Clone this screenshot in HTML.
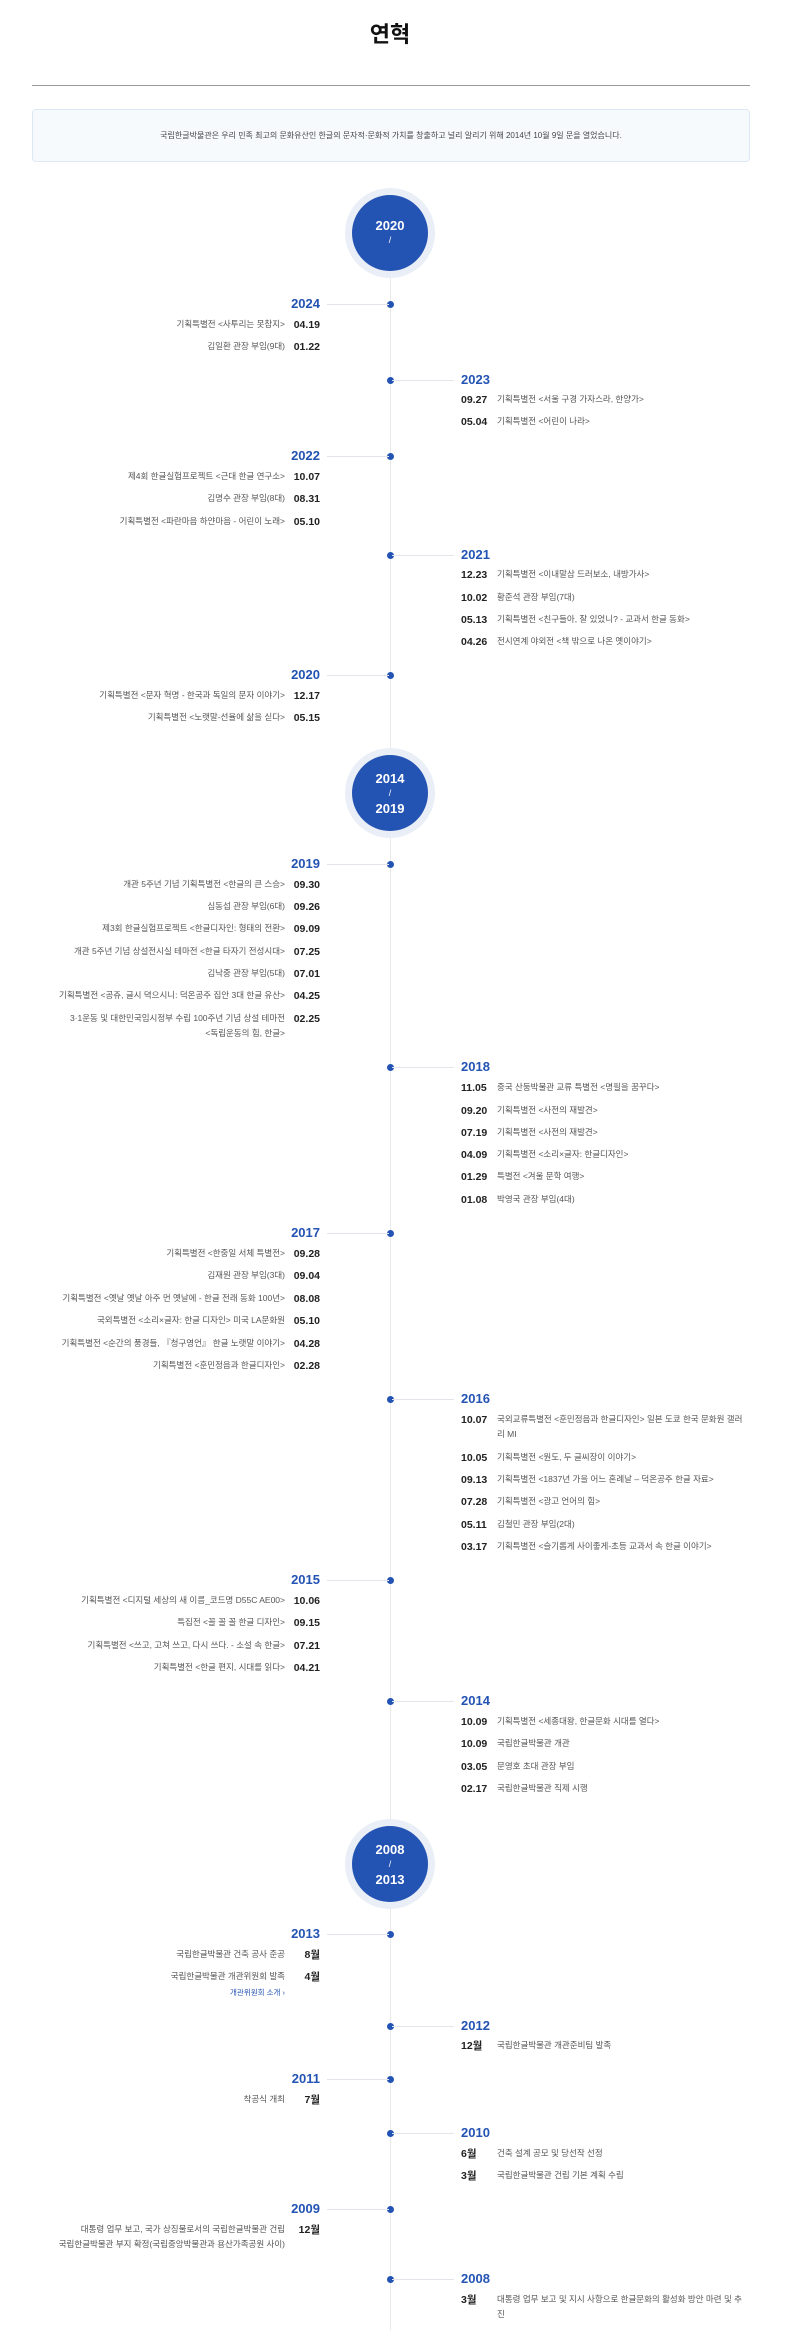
<!DOCTYPE html>
<html><head><meta charset="utf-8"><style>
*{margin:0;padding:0;box-sizing:border-box}
body{width:800px;height:2347px;position:relative;background:#fff;font-family:"Liberation Sans","Noto Sans CJK KR",sans-serif;overflow:hidden}
.a{position:absolute}
h1{position:absolute;left:0;width:780px;top:20px;text-align:center;font-size:22px;line-height:30px;font-weight:bold;color:#111}
.hr{left:32px;width:718px;top:85px;height:1px;background:#999}
.box{left:32px;width:718px;top:109px;height:53px;background:#f7fafd;border:1px solid #dde8f4;border-radius:4px;font-size:8px;color:#444;text-align:center;line-height:51px}
.vl{left:390px;width:1px;top:230px;height:2100px;background:#e8eaee}
.halo{width:90px;height:90px;border-radius:50%;background:#e9eef7;left:345px}
.circ{width:76px;height:76px;border-radius:50%;background:#2353b3;left:352px;color:#fff;font-weight:bold;font-size:13px;text-align:center;display:flex;flex-direction:column;justify-content:center;line-height:15px}
.circ span{font-size:9px;font-weight:normal}
.dot{width:7px;height:7px;border-radius:50%;background:#2353b3;left:387px}
.dl{left:327px;width:62px;height:1px;background:#e3e5ea}
.dr{left:392px;width:62px;height:1px;background:#e3e5ea}
.yl{right:480px;font-size:13px;font-weight:bold;color:#2353b3;line-height:16px}
.yr{left:461px;font-size:13px;font-weight:bold;color:#2353b3;line-height:16px}
.ld{right:480px;font-size:10.5px;font-weight:bold;color:#222;line-height:14px}
.lt{right:515px;font-size:8.5px;color:#555;line-height:15px;text-align:right;white-space:nowrap}
.rd{left:461px;font-size:10.5px;font-weight:bold;color:#222;line-height:14px}
.rt{left:497px;font-size:8.5px;color:#555;line-height:15px;white-space:nowrap}
.lk{right:515px;font-size:7.5px;color:#2353b3;line-height:12px}
</style></head><body>
<h1>연혁</h1>
<div class="a hr"></div>
<div class="a box">국립한글박물관은 우리 민족 최고의 문화유산인 한글의 문자적·문화적 가치를 창출하고 널리 알리기 위해 2014년 10월 9일 문을 열었습니다.</div>
<div class="a vl"></div>

<div class="a halo" style="top:188px"></div><div class="a circ" style="top:195px">2020<span>/</span></div>
<div class="a halo" style="top:748px"></div><div class="a circ" style="top:755px">2014<span>/</span>2019</div>
<div class="a halo" style="top:1819px"></div><div class="a circ" style="top:1826px">2008<span>/</span>2013</div>

<!-- 2024 L -->
<div class="a dot" style="top:301px"></div><div class="a dl" style="top:304px"></div>
<div class="a yl" style="top:296px">2024</div>
<div class="a ld" style="top:318px">04.19</div><div class="a lt" style="top:317px">기획특별전 &lt;사투리는 못참지&gt;</div>
<div class="a ld" style="top:340px">01.22</div><div class="a lt" style="top:339px">김일환 관장 부임(9대)</div>
<!-- 2023 R -->
<div class="a dot" style="top:377px"></div><div class="a dr" style="top:380px"></div>
<div class="a yr" style="top:372px">2023</div>
<div class="a rd" style="top:393px">09.27</div><div class="a rt" style="top:392px">기획특별전 &lt;서울 구경 가자스라, 한양가&gt;</div>
<div class="a rd" style="top:415px">05.04</div><div class="a rt" style="top:414px">기획특별전 &lt;어린이 나라&gt;</div>
<!-- 2022 L -->
<div class="a dot" style="top:453px"></div><div class="a dl" style="top:456px"></div>
<div class="a yl" style="top:448px">2022</div>
<div class="a ld" style="top:470px">10.07</div><div class="a lt" style="top:469px">제4회 한글실험프로젝트 &lt;근대 한글 연구소&gt;</div>
<div class="a ld" style="top:492px">08.31</div><div class="a lt" style="top:491px">김명수 관장 부임(8대)</div>
<div class="a ld" style="top:515px">05.10</div><div class="a lt" style="top:514px">기획특별전 &lt;파란마음 하얀마음 - 어린이 노래&gt;</div>
<!-- 2021 R -->
<div class="a dot" style="top:552px"></div><div class="a dr" style="top:555px"></div>
<div class="a yr" style="top:547px">2021</div>
<div class="a rd" style="top:568px">12.23</div><div class="a rt" style="top:567px">기획특별전 &lt;이내말삼 드러보소, 내방가사&gt;</div>
<div class="a rd" style="top:591px">10.02</div><div class="a rt" style="top:590px">황준석 관장 부임(7대)</div>
<div class="a rd" style="top:613px">05.13</div><div class="a rt" style="top:612px">기획특별전 &lt;친구들아, 잘 있었니? - 교과서 한글 동화&gt;</div>
<div class="a rd" style="top:635px">04.26</div><div class="a rt" style="top:634px">전시연계 야외전 &lt;책 밖으로 나온 옛이야기&gt;</div>
<!-- 2020 L -->
<div class="a dot" style="top:672px"></div><div class="a dl" style="top:675px"></div>
<div class="a yl" style="top:667px">2020</div>
<div class="a ld" style="top:689px">12.17</div><div class="a lt" style="top:688px">기획특별전 &lt;문자 혁명 - 한국과 독일의 문자 이야기&gt;</div>
<div class="a ld" style="top:711px">05.15</div><div class="a lt" style="top:710px">기획특별전 &lt;노랫말-선율에 삶을 싣다&gt;</div>

<!-- 2019 L -->
<div class="a dot" style="top:861px"></div><div class="a dl" style="top:864px"></div>
<div class="a yl" style="top:856px">2019</div>
<div class="a ld" style="top:878px">09.30</div><div class="a lt" style="top:877px">개관 5주년 기념 기획특별전 &lt;한글의 큰 스승&gt;</div>
<div class="a ld" style="top:900px">09.26</div><div class="a lt" style="top:899px">심동섭 관장 부임(6대)</div>
<div class="a ld" style="top:922px">09.09</div><div class="a lt" style="top:921px">제3회 한글실험프로젝트 &lt;한글디자인: 형태의 전환&gt;</div>
<div class="a ld" style="top:945px">07.25</div><div class="a lt" style="top:944px">개관 5주년 기념 상설전시실 테마전 &lt;한글 타자기 전성시대&gt;</div>
<div class="a ld" style="top:967px">07.01</div><div class="a lt" style="top:966px">김낙중 관장 부임(5대)</div>
<div class="a ld" style="top:989px">04.25</div><div class="a lt" style="top:988px">기획특별전 &lt;공쥬, 글시 뎍으시니: 덕온공주 집안 3대 한글 유산&gt;</div>
<div class="a ld" style="top:1012px">02.25</div><div class="a lt" style="top:1011px">3·1운동 및 대한민국임시정부 수립 100주년 기념 상설 테마전<br>&lt;독립운동의 힘, 한글&gt;</div>
<!-- 2018 R -->
<div class="a dot" style="top:1064px"></div><div class="a dr" style="top:1067px"></div>
<div class="a yr" style="top:1059px">2018</div>
<div class="a rd" style="top:1081px">11.05</div><div class="a rt" style="top:1080px">중국 산둥박물관 교류 특별전 &lt;명필을 꿈꾸다&gt;</div>
<div class="a rd" style="top:1104px">09.20</div><div class="a rt" style="top:1103px">기획특별전 &lt;사전의 재발견&gt;</div>
<div class="a rd" style="top:1126px">07.19</div><div class="a rt" style="top:1125px">기획특별전 &lt;사전의 재발견&gt;</div>
<div class="a rd" style="top:1148px">04.09</div><div class="a rt" style="top:1147px">기획특별전 &lt;소리×글자: 한글디자인&gt;</div>
<div class="a rd" style="top:1170px">01.29</div><div class="a rt" style="top:1169px">특별전 &lt;겨울 문학 여행&gt;</div>
<div class="a rd" style="top:1193px">01.08</div><div class="a rt" style="top:1192px">박영국 관장 부임(4대)</div>
<!-- 2017 L -->
<div class="a dot" style="top:1230px"></div><div class="a dl" style="top:1233px"></div>
<div class="a yl" style="top:1225px">2017</div>
<div class="a ld" style="top:1247px">09.28</div><div class="a lt" style="top:1246px">기획특별전 &lt;한중일 서체 특별전&gt;</div>
<div class="a ld" style="top:1269px">09.04</div><div class="a lt" style="top:1268px">김재원 관장 부임(3대)</div>
<div class="a ld" style="top:1292px">08.08</div><div class="a lt" style="top:1291px">기획특별전 &lt;옛날 옛날 아주 먼 옛날에 - 한글 전래 동화 100년&gt;</div>
<div class="a ld" style="top:1314px">05.10</div><div class="a lt" style="top:1313px">국외특별전 &lt;소리×글자: 한글 디자인&gt; 미국 LA문화원</div>
<div class="a ld" style="top:1337px">04.28</div><div class="a lt" style="top:1336px">기획특별전 &lt;순간의 풍경들, 『청구영언』 한글 노랫말 이야기&gt;</div>
<div class="a ld" style="top:1359px">02.28</div><div class="a lt" style="top:1358px">기획특별전 &lt;훈민정음과 한글디자인&gt;</div>
<!-- 2016 R -->
<div class="a dot" style="top:1396px"></div><div class="a dr" style="top:1399px"></div>
<div class="a yr" style="top:1391px">2016</div>
<div class="a rd" style="top:1413px">10.07</div><div class="a rt" style="top:1412px">국외교류특별전 &lt;훈민정음과 한글디자인&gt; 일본 도쿄 한국 문화원 갤러<br>리 MI</div>
<div class="a rd" style="top:1451px">10.05</div><div class="a rt" style="top:1450px">기획특별전 &lt;원도, 두 글씨장이 이야기&gt;</div>
<div class="a rd" style="top:1473px">09.13</div><div class="a rt" style="top:1472px">기획특별전 &lt;1837년 가을 어느 혼례날 – 덕온공주 한글 자료&gt;</div>
<div class="a rd" style="top:1495px">07.28</div><div class="a rt" style="top:1494px">기획특별전 &lt;광고 언어의 힘&gt;</div>
<div class="a rd" style="top:1518px">05.11</div><div class="a rt" style="top:1517px">김철민 관장 부임(2대)</div>
<div class="a rd" style="top:1540px">03.17</div><div class="a rt" style="top:1539px">기획특별전 &lt;슬기롭게 사이좋게-초등 교과서 속 한글 이야기&gt;</div>
<!-- 2015 L -->
<div class="a dot" style="top:1577px"></div><div class="a dl" style="top:1580px"></div>
<div class="a yl" style="top:1572px">2015</div>
<div class="a ld" style="top:1594px">10.06</div><div class="a lt" style="top:1593px">기획특별전 &lt;디지털 세상의 새 이름_코드명 D55C AE00&gt;</div>
<div class="a ld" style="top:1616px">09.15</div><div class="a lt" style="top:1615px">특집전 &lt;꼴 꼴 꼴 한글 디자인&gt;</div>
<div class="a ld" style="top:1639px">07.21</div><div class="a lt" style="top:1638px">기획특별전 &lt;쓰고, 고쳐 쓰고, 다시 쓰다. - 소설 속 한글&gt;</div>
<div class="a ld" style="top:1661px">04.21</div><div class="a lt" style="top:1660px">기획특별전 &lt;한글 편지, 시대를 읽다&gt;</div>
<!-- 2014 R -->
<div class="a dot" style="top:1698px"></div><div class="a dr" style="top:1701px"></div>
<div class="a yr" style="top:1693px">2014</div>
<div class="a rd" style="top:1715px">10.09</div><div class="a rt" style="top:1714px">기획특별전 &lt;세종대왕, 한글문화 시대를 열다&gt;</div>
<div class="a rd" style="top:1737px">10.09</div><div class="a rt" style="top:1736px">국립한글박물관 개관</div>
<div class="a rd" style="top:1760px">03.05</div><div class="a rt" style="top:1759px">문영호 초대 관장 부임</div>
<div class="a rd" style="top:1782px">02.17</div><div class="a rt" style="top:1781px">국립한글박물관 직제 시행</div>

<!-- 2013 L -->
<div class="a dot" style="top:1931px"></div><div class="a dl" style="top:1934px"></div>
<div class="a yl" style="top:1926px">2013</div>
<div class="a ld" style="top:1948px">8월</div><div class="a lt" style="top:1947px">국립한글박물관 건축 공사 준공</div>
<div class="a ld" style="top:1970px">4월</div><div class="a lt" style="top:1969px">국립한글박물관 개관위원회 발족</div>
<div class="a lk" style="top:1987px">개관위원회 소개 ›</div>
<!-- 2012 R -->
<div class="a dot" style="top:2023px"></div><div class="a dr" style="top:2026px"></div>
<div class="a yr" style="top:2018px">2012</div>
<div class="a rd" style="top:2039px">12월</div><div class="a rt" style="top:2038px">국립한글박물관 개관준비팀 발족</div>
<!-- 2011 L -->
<div class="a dot" style="top:2076px"></div><div class="a dl" style="top:2079px"></div>
<div class="a yl" style="top:2071px">2011</div>
<div class="a ld" style="top:2093px">7월</div><div class="a lt" style="top:2092px">착공식 개최</div>
<!-- 2010 R -->
<div class="a dot" style="top:2130px"></div><div class="a dr" style="top:2133px"></div>
<div class="a yr" style="top:2125px">2010</div>
<div class="a rd" style="top:2147px">6월</div><div class="a rt" style="top:2146px">건축 설계 공모 및 당선작 선정</div>
<div class="a rd" style="top:2169px">3월</div><div class="a rt" style="top:2168px">국립한글박물관 건립 기본 계획 수립</div>
<!-- 2009 L -->
<div class="a dot" style="top:2206px"></div><div class="a dl" style="top:2209px"></div>
<div class="a yl" style="top:2201px">2009</div>
<div class="a ld" style="top:2223px">12월</div><div class="a lt" style="top:2222px">대통령 업무 보고, 국가 상징물로서의 국립한글박물관 건립<br>국립한글박물관 부지 확정(국립중앙박물관과 용산가족공원 사이)</div>
<!-- 2008 R -->
<div class="a dot" style="top:2276px"></div><div class="a dr" style="top:2279px"></div>
<div class="a yr" style="top:2271px">2008</div>
<div class="a rd" style="top:2293px">3월</div><div class="a rt" style="top:2292px">대통령 업무 보고 및 지시 사항으로 한글문화의 활성화 방안 마련 및 추<br>진</div>
</body></html>
